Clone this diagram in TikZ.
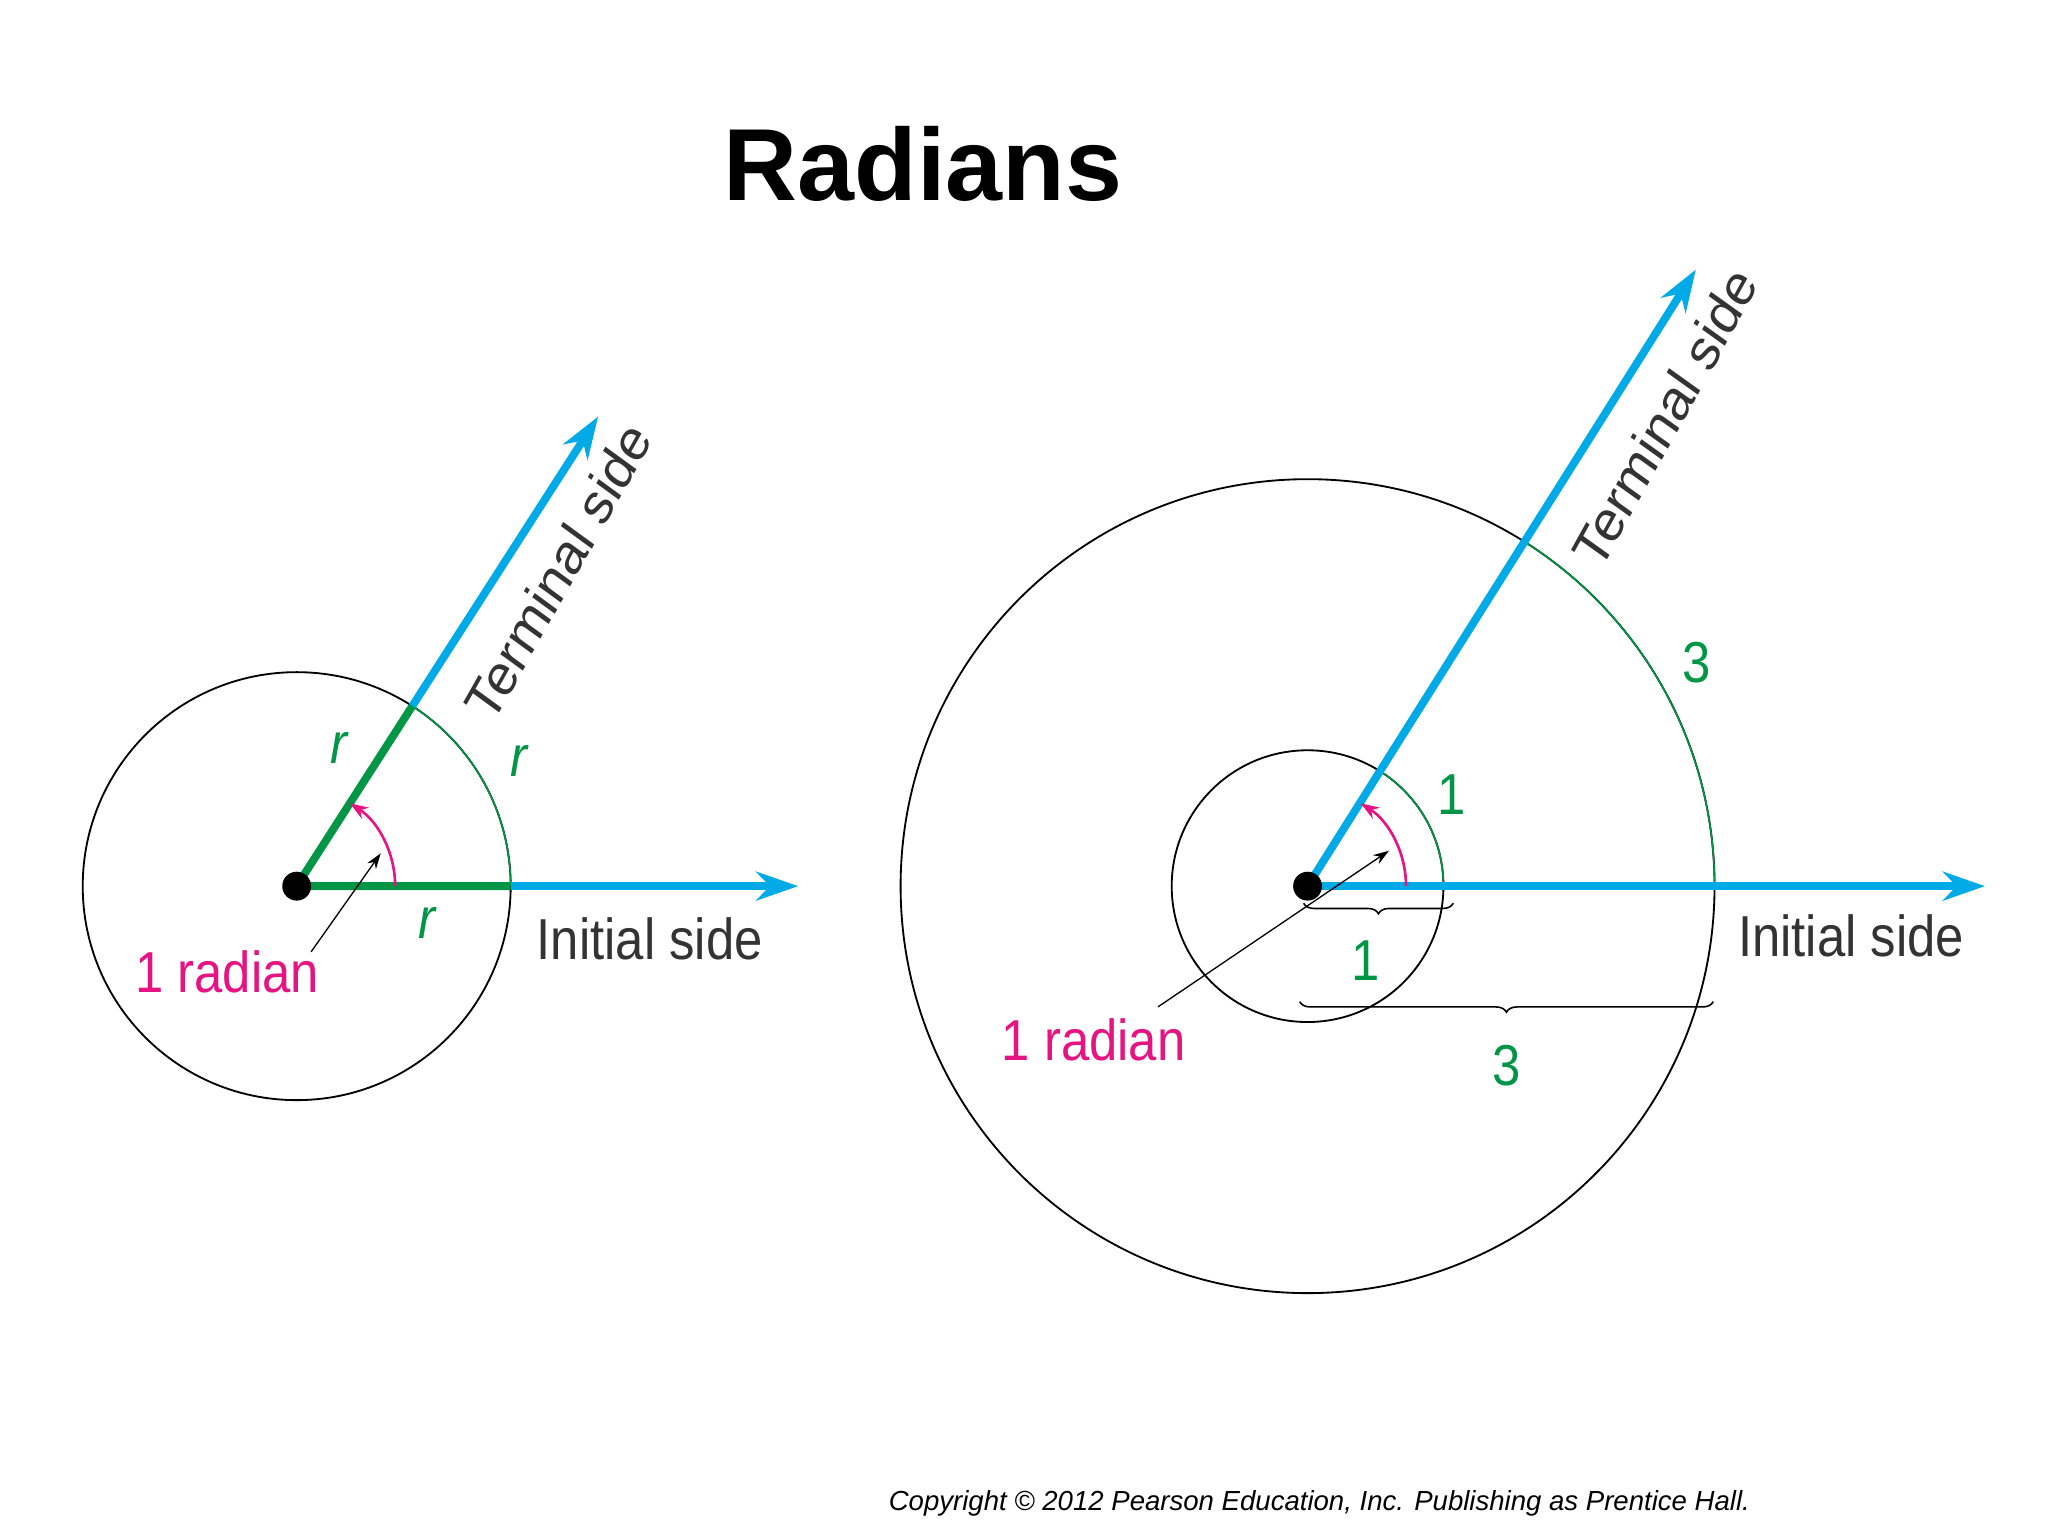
\documentclass[tikz,border=0pt]{standalone}
\usepackage{fontspec}
\setmainfont{Liberation Sans}
\usetikzlibrary{decorations.pathreplacing,arrows.meta,calc}
\definecolor{skyb}{RGB}{0,170,230}
\definecolor{grn}{RGB}{0,150,70}
\definecolor{pnk}{RGB}{230,20,130}
\begin{document}
\begin{tikzpicture}[x=0.5pt,y=-0.5pt,
  blue/.style={draw=skyb,line width=3pt,-{Stealth[length=16pt,width=11pt]}},
  gthick/.style={draw=grn,line width=3pt},
  garc/.style={draw=grn,line width=0.6pt},
  circ/.style={draw=black,line width=0.7pt},
  pk/.style={draw=pnk,line width=1pt,-{Stealth[length=7pt,width=5pt]}},
  lbl/.style={font=\fontsize{22}{24}\selectfont,xscale=0.88},
  glbl/.style={lbl,text=grn},
  brc/.style={draw=black,line width=0.6pt,decorate,decoration={brace,mirror,amplitude=4pt}}]
\useasboundingbox (0,0) rectangle (1560,1170);
\node[font=\fontsize{39}{44}\selectfont\bfseries] (title) at (703,125) {Radians};
% left
\coordinate (A) at (226,675);
\coordinate (At) at ($(A)+(-57.3:163)$);
\draw[circ] (A) circle[radius=163];
\draw[garc] (389,675) arc[start angle=0,end angle=-57.3,radius=163];
\draw[blue] (389,675) -- (608,675);
\draw[blue] (At) -- ($(A)+(-57.3:425)$);
\draw[gthick] (At) -- (A) -- (389,675);
\draw[pk] (301,675) arc[start angle=0,end angle=-57.3,radius=75];
\fill (A) circle[radius=11];
\node[glbl,font=\fontsize{22}{24}\selectfont\itshape] (r1) at (258,570) {r};
\node[glbl,font=\fontsize{22}{24}\selectfont\itshape] (r2) at (395,580) {r};
\node[glbl,font=\fontsize{22}{24}\selectfont\itshape] (r3) at (325,703) {r};
\node[lbl,text=pnk] (rad1) at (173,740) {1 radian};
\coordinate (p1) at (290,650);
\draw[-{Stealth[length=6pt,width=4pt]},line width=0.5pt] (237,725) -- (p1);
\node[lbl,text=black!80] (is1) at (495,715) {Initial side};
\node[lbl,text=black!80,rotate=57.3] (ts1) at (425,435) {Terminal side};
% right
\coordinate (B) at (996,675);
\draw[circ] (B) circle[radius=103.5];
\draw[circ] (B) circle[radius=310];
\draw[garc] (1306,675) arc[start angle=0,end angle=-57.3,radius=310];
\draw[garc] (1099.5,675) arc[start angle=0,end angle=-57.3,radius=103.5];
\draw[blue] (B) -- (1512,675);
\draw[blue] (B) -- ($(B)+(-57.8:555)$);
\draw[pk] (1071,675) arc[start angle=0,end angle=-57.3,radius=75];
\fill (B) circle[radius=11];
\draw[brc] (993,688) -- (1107,688);
\draw[brc] (990,763) -- (1305,763);
\node[glbl] (one1) at (1106,605) {1};
\node[glbl] (one2) at (1040,732) {1};
\node[glbl] (three1) at (1292,505) {3};
\node[glbl] (three2) at (1148,812) {3};
\node[lbl,text=pnk] (rad2) at (833,792) {1 radian};
\coordinate (p2) at (1058,648);
\draw[-{Stealth[length=6pt,width=4pt]},line width=0.5pt] (882,767) -- (p2);
\node[lbl,text=black!80] (is2) at (1410,713) {Initial side};
\node[lbl,text=black!80,rotate=57.8] (ts2) at (1268,318) {Terminal side};
\node[font=\fontsize{10.5}{12}\selectfont\itshape] (copy) at (1005,1145) {Copyright © 2012 Pearson Education, Inc. Publishing as Prentice Hall.};
\end{tikzpicture}
\end{document}
